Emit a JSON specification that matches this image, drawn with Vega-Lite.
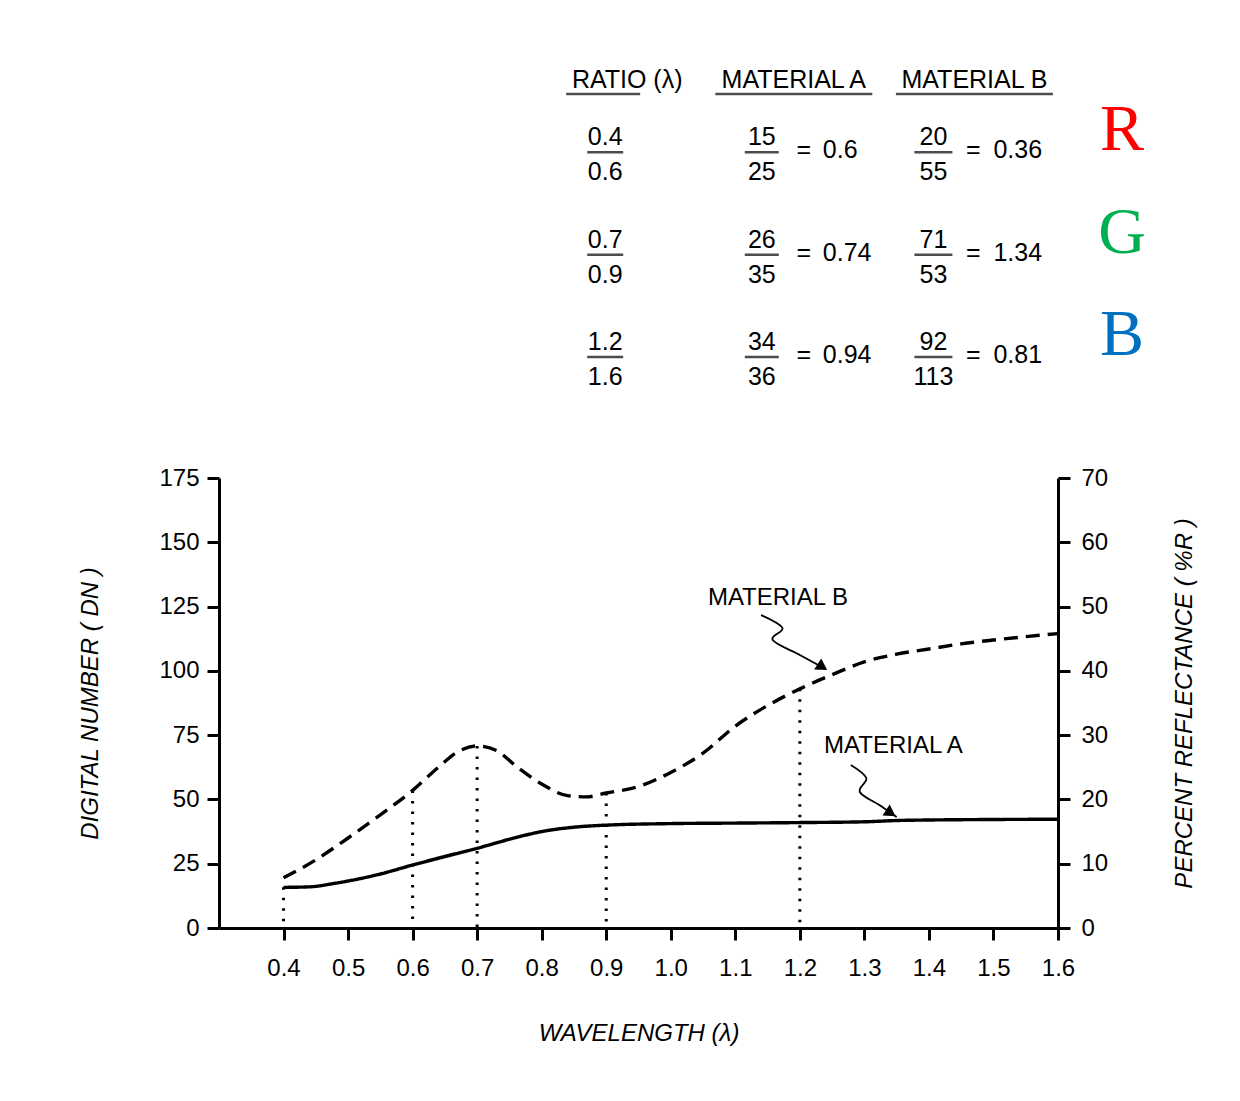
{
  "$schema": "https://vega.github.io/schema/vega-lite/v6.json",
  "padding": {"left": 78, "top": 52, "right": 5, "bottom": 5},
  "bounds": "flush",
  "spacing": 119,
  "background": "white",
  "config": {
    "view": {"stroke": null},
    "font": "Liberation Sans",
    "axis": {
      "domainColor": "black", "domainWidth": 3, "tickColor": "black", "tickWidth": 3, "tickSize": 12,
      "labelColor": "black", "labelFont": "Liberation Sans", "labelFontSize": 24, "labelFlush": false,
      "titleFont": "Liberation Sans", "titleFontSize": 24, "titleFontStyle": "italic", "titleFontWeight": "normal",
      "titleColor": "black", "grid": false
    },
    "text": {"font": "Liberation Sans", "fontSize": 25, "color": "black"}
  },
  "datasets": {
    "bands": [
      {"band": "R", "ratio_num": "0.4", "ratio_den": "0.6", "a_num": "15", "a_den": "25", "a_ratio": "0.6", "b_num": "20", "b_den": "55", "b_ratio": "0.36"},
      {"band": "G", "ratio_num": "0.7", "ratio_den": "0.9", "a_num": "26", "a_den": "35", "a_ratio": "0.74", "b_num": "71", "b_den": "53", "b_ratio": "1.34"},
      {"band": "B", "ratio_num": "1.2", "ratio_den": "1.6", "a_num": "34", "a_den": "36", "a_ratio": "0.94", "b_num": "92", "b_den": "113", "b_ratio": "0.81"}
    ],
    "header": [
      {"band": "header", "col": "ratio", "label": "RATIO (λ)"},
      {"band": "header", "col": "A", "label": "MATERIAL A"},
      {"band": "header", "col": "B", "label": "MATERIAL B"}
    ],
    "curves": [
      {"material": "A", "wl": 0.40, "dn": 15.8},
      {"material": "A", "wl": 0.44, "dn": 16.0},
      {"material": "A", "wl": 0.48, "dn": 17.4},
      {"material": "A", "wl": 0.55, "dn": 21.0},
      {"material": "A", "wl": 0.60, "dn": 24.5},
      {"material": "A", "wl": 0.65, "dn": 27.8},
      {"material": "A", "wl": 0.70, "dn": 31.0},
      {"material": "A", "wl": 0.75, "dn": 34.5},
      {"material": "A", "wl": 0.80, "dn": 37.5},
      {"material": "A", "wl": 0.85, "dn": 39.2},
      {"material": "A", "wl": 0.90, "dn": 40.0},
      {"material": "A", "wl": 1.00, "dn": 40.6},
      {"material": "A", "wl": 1.10, "dn": 40.8},
      {"material": "A", "wl": 1.20, "dn": 41.0},
      {"material": "A", "wl": 1.30, "dn": 41.3},
      {"material": "A", "wl": 1.35, "dn": 41.8},
      {"material": "A", "wl": 1.40, "dn": 42.0},
      {"material": "A", "wl": 1.50, "dn": 42.2},
      {"material": "A", "wl": 1.60, "dn": 42.3},
      {"material": "B", "wl": 0.40, "dn": 19.5},
      {"material": "B", "wl": 0.45, "dn": 26.5},
      {"material": "B", "wl": 0.50, "dn": 35.0},
      {"material": "B", "wl": 0.55, "dn": 44.0},
      {"material": "B", "wl": 0.60, "dn": 53.5},
      {"material": "B", "wl": 0.64, "dn": 62.5},
      {"material": "B", "wl": 0.67, "dn": 68.5},
      {"material": "B", "wl": 0.70, "dn": 70.8},
      {"material": "B", "wl": 0.73, "dn": 69.0},
      {"material": "B", "wl": 0.76, "dn": 63.0},
      {"material": "B", "wl": 0.80, "dn": 56.0},
      {"material": "B", "wl": 0.84, "dn": 51.5},
      {"material": "B", "wl": 0.87, "dn": 51.0},
      {"material": "B", "wl": 0.90, "dn": 52.5},
      {"material": "B", "wl": 0.95, "dn": 55.0},
      {"material": "B", "wl": 1.00, "dn": 60.5},
      {"material": "B", "wl": 1.05, "dn": 68.0},
      {"material": "B", "wl": 1.10, "dn": 78.5},
      {"material": "B", "wl": 1.15, "dn": 86.5},
      {"material": "B", "wl": 1.20, "dn": 93.0},
      {"material": "B", "wl": 1.25, "dn": 98.5},
      {"material": "B", "wl": 1.30, "dn": 103.5},
      {"material": "B", "wl": 1.35, "dn": 106.5},
      {"material": "B", "wl": 1.40, "dn": 108.5},
      {"material": "B", "wl": 1.45, "dn": 110.5},
      {"material": "B", "wl": 1.50, "dn": 112.0},
      {"material": "B", "wl": 1.55, "dn": 113.3},
      {"material": "B", "wl": 1.60, "dn": 114.5}
    ],
    "drops": [
      {"wl": 0.4, "dn": 15.8},
      {"wl": 0.6, "dn": 53.5},
      {"wl": 0.7, "dn": 70.8},
      {"wl": 0.9, "dn": 52.5},
      {"wl": 1.2, "dn": 93.0}
    ],
    "labels": [
      {"wl": 1.166, "dn": 128.3, "label": "MATERIAL B"},
      {"wl": 1.345, "dn": 70.8, "label": "MATERIAL A"}
    ],
    "arrows": [
      {"arrow": "B", "i": 0, "wl": 1.140, "dn": 121.7},
      {"arrow": "B", "i": 1, "wl": 1.173, "dn": 116.7},
      {"arrow": "B", "i": 2, "wl": 1.158, "dn": 112.0},
      {"arrow": "B", "i": 3, "wl": 1.200, "dn": 106.2},
      {"arrow": "B", "i": 4, "wl": 1.237, "dn": 101.1},
      {"arrow": "A", "i": 0, "wl": 1.279, "dn": 63.4},
      {"arrow": "A", "i": 1, "wl": 1.303, "dn": 58.3},
      {"arrow": "A", "i": 2, "wl": 1.293, "dn": 52.9},
      {"arrow": "A", "i": 3, "wl": 1.325, "dn": 47.5},
      {"arrow": "A", "i": 4, "wl": 1.350, "dn": 43.2}
    ],
    "heads": [
      {"arrow": "B", "wl": 1.235, "dn": 101.5},
      {"arrow": "A", "wl": 1.341, "dn": 44.7}
    ]
  },
  "vconcat": [
    {
      "width": 903,
      "height": 307,
      "data": {"name": "bands"},
      "layer": [
        {
          "data": {"name": "header"},
          "transform": [{"filter": "datum.col == 'ratio'"}],
          "mark": {"type": "text", "dx": 47, "dy": 28, "fontSize": 25},
          "encoding": {
            "x": {"field": "col", "type": "nominal", "scale": {"type": "point", "domain": ["ratio", "A", "B", "band"], "padding": 1.125, "align": 1}, "axis": null},
            "y": {"field": "band", "type": "nominal", "scale": {"type": "point", "domain": ["header", "R", "G", "B"], "padding": 0}, "axis": null},
            "text": {"field": "label"}
          }
        },
        {
          "data": {"name": "header"},
          "transform": [{"filter": "datum.col != 'ratio'"}],
          "mark": {"type": "text", "dx": 33, "dy": 28, "fontSize": 25},
          "encoding": {"x": {"field": "col", "type": "nominal"}, "y": {"field": "band", "type": "nominal"}, "text": {"field": "label"}}
        },
        {
          "data": {"name": "header"},
          "transform": [{"filter": "datum.col == 'ratio'"}],
          "mark": {"type": "tick", "orient": "horizontal", "size": 74, "thickness": 2.5, "color": "black", "xOffset": 23, "yOffset": 42},
          "encoding": {"x": {"field": "col", "type": "nominal"}, "y": {"field": "band", "type": "nominal"}}
        },
        {
          "data": {"name": "header"},
          "transform": [{"filter": "datum.col != 'ratio'"}],
          "mark": {"type": "tick", "orient": "horizontal", "size": 157, "thickness": 2.5, "color": "black", "xOffset": 33, "yOffset": 42},
          "encoding": {"x": {"field": "col", "type": "nominal"}, "y": {"field": "band", "type": "nominal"}}
        },
        {
          "mark": {"type": "text", "dy": -17, "dx": 25},
          "encoding": {"x": {"datum": "ratio", "type": "nominal"}, "y": {"field": "band", "type": "nominal"}, "text": {"field": "ratio_num"}}
        },
        {
          "mark": {"type": "text", "dy": 18, "dx": 25},
          "encoding": {"x": {"datum": "ratio", "type": "nominal"}, "y": {"field": "band", "type": "nominal"}, "text": {"field": "ratio_den"}}
        },
        {
          "mark": {"type": "tick", "orient": "horizontal", "size": 36, "thickness": 2.5, "color": "black", "yOffset": -2, "xOffset": 25},
          "encoding": {"x": {"datum": "ratio", "type": "nominal"}, "y": {"field": "band", "type": "nominal"}}
        },
        {
          "mark": {"type": "text", "dy": -17, "dx": 1},
          "encoding": {"x": {"datum": "A", "type": "nominal"}, "y": {"field": "band", "type": "nominal"}, "text": {"field": "a_num"}}
        },
        {
          "mark": {"type": "text", "dy": 18, "dx": 1},
          "encoding": {"x": {"datum": "A", "type": "nominal"}, "y": {"field": "band", "type": "nominal"}, "text": {"field": "a_den"}}
        },
        {
          "mark": {"type": "tick", "orient": "horizontal", "size": 34, "thickness": 2.5, "color": "black", "yOffset": -2, "xOffset": 1},
          "encoding": {"x": {"datum": "A", "type": "nominal"}, "y": {"field": "band", "type": "nominal"}}
        },
        {
          "mark": {"type": "text", "dy": -4, "dx": 43},
          "encoding": {"x": {"datum": "A", "type": "nominal"}, "y": {"field": "band", "type": "nominal"}, "text": {"value": "="}}
        },
        {
          "mark": {"type": "text", "dy": -4, "dx": 62, "align": "left"},
          "encoding": {"x": {"datum": "A", "type": "nominal"}, "y": {"field": "band", "type": "nominal"}, "text": {"field": "a_ratio"}}
        },
        {
          "mark": {"type": "text", "dy": -17, "dx": -8},
          "encoding": {"x": {"datum": "B", "type": "nominal"}, "y": {"field": "band", "type": "nominal"}, "text": {"field": "b_num"}}
        },
        {
          "mark": {"type": "text", "dy": 18, "dx": -8},
          "encoding": {"x": {"datum": "B", "type": "nominal"}, "y": {"field": "band", "type": "nominal"}, "text": {"field": "b_den"}}
        },
        {
          "mark": {"type": "tick", "orient": "horizontal", "size": 38, "thickness": 2.5, "color": "black", "yOffset": -2, "xOffset": -8},
          "encoding": {"x": {"datum": "B", "type": "nominal"}, "y": {"field": "band", "type": "nominal"}}
        },
        {
          "mark": {"type": "text", "dy": -4, "dx": 32},
          "encoding": {"x": {"datum": "B", "type": "nominal"}, "y": {"field": "band", "type": "nominal"}, "text": {"value": "="}}
        },
        {
          "mark": {"type": "text", "dy": -4, "dx": 52, "align": "left"},
          "encoding": {"x": {"datum": "B", "type": "nominal"}, "y": {"field": "band", "type": "nominal"}, "text": {"field": "b_ratio"}}
        },
        {
          "mark": {"type": "text", "dy": -24, "font": "Liberation Serif", "fontSize": 66},
          "encoding": {
            "x": {"datum": "band", "type": "nominal"},
            "y": {"field": "band", "type": "nominal"},
            "text": {"field": "band"},
            "color": {"field": "band", "type": "nominal", "scale": {"domain": ["R", "G", "B"], "range": ["#FF0000", "#00B050", "#0070C0"]}, "legend": null}
          }
        }
      ]
    },
    {
      "width": 839,
      "height": 450,
      "layer": [
        {
          "layer": [
            {
              "data": {"name": "curves"},
              "mark": {"type": "line", "interpolate": "monotone", "strokeWidth": 3.4, "color": "black"},
              "encoding": {
                "x": {"field": "wl", "type": "quantitative", "scale": {"domain": [0.3, 1.6], "nice": false, "zero": false},
                  "axis": {"values": [0.4, 0.5, 0.6, 0.7, 0.8, 0.9, 1.0, 1.1, 1.2, 1.3, 1.4, 1.5, 1.6], "format": ".1f", "title": "WAVELENGTH (λ)", "labelPadding": 16, "titlePadding": 41, "labelOverlap": false}},
                "y": {"field": "dn", "type": "quantitative", "scale": {"domain": [0, 175], "nice": false},
                  "axis": {"values": [0, 25, 50, 75, 100, 125, 150, 175], "title": "DIGITAL NUMBER ( DN )", "labelPadding": 8, "titlePadding": 56, "labelOverlap": false}},
                "strokeDash": {"field": "material", "type": "nominal", "scale": {"domain": ["A", "B"], "range": [[1, 0], [14, 8]]}, "legend": null}
              }
            },
            {
              "data": {"name": "drops"},
              "mark": {"type": "rule", "strokeWidth": 3, "strokeDash": [2.5, 8], "color": "black"},
              "encoding": {
                "x": {"field": "wl", "type": "quantitative"},
                "y": {"field": "dn", "type": "quantitative"},
                "y2": {"datum": 0}
              }
            },
            {
              "data": {"name": "labels"},
              "mark": {"type": "text", "fontSize": 24, "align": "center", "baseline": "middle"},
              "encoding": {
                "x": {"field": "wl", "type": "quantitative"},
                "y": {"field": "dn", "type": "quantitative"},
                "text": {"field": "label"}
              }
            },
            {
              "data": {"name": "arrows"},
              "mark": {"type": "line", "interpolate": "cardinal", "strokeWidth": 1.8, "color": "black"},
              "encoding": {
                "x": {"field": "wl", "type": "quantitative"},
                "y": {"field": "dn", "type": "quantitative"},
                "detail": {"field": "arrow", "type": "nominal"},
                "order": {"field": "i", "type": "quantitative"}
              }
            },
            {
              "data": {"name": "heads"},
              "mark": {"type": "point", "shape": "triangle-right", "filled": true, "size": 170, "angle": 33, "color": "black", "opacity": 1},
              "encoding": {
                "x": {"field": "wl", "type": "quantitative"},
                "y": {"field": "dn", "type": "quantitative"}
              }
            }
          ]
        },
        {
          "data": {"values": [{"pct": 0}, {"pct": 70}]},
          "mark": {"type": "point", "opacity": 0},
          "encoding": {
            "y": {"field": "pct", "type": "quantitative", "scale": {"domain": [0, 70], "nice": false},
              "axis": {"orient": "right", "values": [0, 10, 20, 30, 40, 50, 60, 70], "title": "PERCENT REFLECTANCE ( %R )", "titleAngle": 270, "labelPadding": 11, "titlePadding": 89, "labelOverlap": false}}
          }
        }
      ],
      "resolve": {"scale": {"y": "independent"}}
    }
  ]
}
